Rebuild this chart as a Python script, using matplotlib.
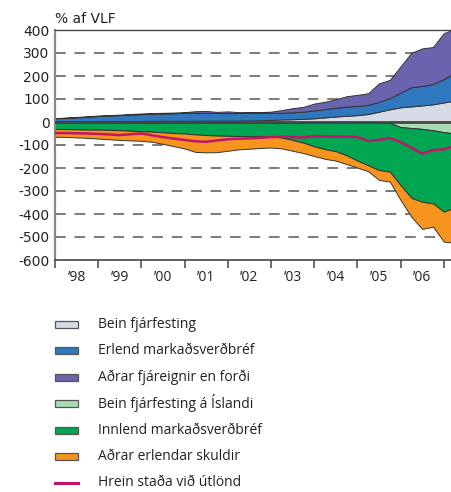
import numpy as np
import matplotlib
matplotlib.use("Agg")
import matplotlib.pyplot as plt
from matplotlib.patches import Rectangle
from matplotlib.lines import Line2D

plt.rcParams['font.family'] = ['Open Sans', 'DejaVu Sans']

# Quarterly observations, 1998 Q1 ... 2007 Q2 (index i -> 1998 + i/4)
t = 1998 + np.arange(38) / 4.0

# Assets (% of GDP)
bein_fjarfesting = [2, 2, 3, 3, 3, 4, 4, 4,
                    5, 5, 5, 5, 5, 5, 6, 6,
                    6, 6, 7, 7, 9, 11, 12, 14,
                    16, 20, 24, 27, 30, 35, 45, 55,
                    64, 68, 72, 77, 85, 93]
erlend_markadsverdbref = [14, 16, 17, 20, 23, 24, 26, 28,
                          29, 31, 32, 33, 35, 35, 34, 33,
                          33, 33, 33, 33, 31, 29, 30, 31,
                          34, 36, 38, 40, 40, 39, 43, 48,
                          64, 83, 85, 88, 101, 122]
adrar_fjareignir = [1, 1, 2, 2, 2, 2, 2, 3,
                    3, 3, 3, 3, 3, 7, 8, 5,
                    7, 4, 3, 3, 5, 12, 18, 21,
                    30, 32, 37, 45, 48, 51, 80, 80,
                    114, 150, 163, 161, 200, 190]

# Liabilities (% of GDP)
bein_fjarfesting_isl = [-2] * 20 + [-3] * 11 + [-4, -22, -26, -30, -36, -44, -50]
innlend_markadsverdbref = [-28, -29, -30, -31, -31, -32, -34, -36,
                           -38, -40, -43, -46, -48, -52, -55, -57,
                           -58, -59, -60, -60, -60, -65, -75, -87,
                           -103, -115, -124, -142, -165, -185, -206, -212,
                           -253, -304, -317, -318, -346, -322]
adrar_erlendar_skuldir = [-34, -34, -35, -36, -39, -41, -42, -42,
                          -42, -44, -50, -57, -65, -76, -75, -72,
                          -65, -58, -54, -51, -48, -47, -47, -45,
                          -42, -42, -41, -38, -30, -26, -43, -43,
                          -64, -82, -118, -101, -130, -153]

# Net international investment position
hrein_stada = [-48, -48, -49, -50, -52, -54, -57, -53,
               -50, -58, -66, -72, -78, -84, -86, -80,
               -75, -73, -71, -69, -66, -64, -66, -67,
               -61, -63, -64, -64, -66, -82, -78, -70,
               -88, -112, -138, -122, -119, -105]

year_labels = ['’98', '’99', '’00', '’01', '’02', '’03', '’04', '’05', '’06']

labels = ['Bein fjárfesting', 'Erlend markaðsverðbréf', 'Aðrar fjáreignir en forði',
          'Bein fjárfesting á Íslandi', 'Innlend markaðsverðbréf', 'Aðrar erlendar skuldir',
          'Hrein staða við útlönd']
colors = ['#d5dce6', '#2f78bd', '#6a63ad', '#a9dbb5', '#00a651', '#f7941d', '#c0166a']

W, H = 451, 492
fig = plt.figure(figsize=(W / 100, H / 100), dpi=100)
x0, x1, y0, y1 = 55, 451, 30, 260
ax = fig.add_axes([x0 / W, 1 - y1 / H, (x1 - x0) / W, (y1 - y0) / H])

edge = '#333333'
ax.stackplot(t, bein_fjarfesting, erlend_markadsverdbref, adrar_fjareignir,
             colors=colors[0:3], edgecolor=edge, linewidth=0.7, zorder=2)
ax.stackplot(t, bein_fjarfesting_isl, innlend_markadsverdbref, adrar_erlendar_skuldir,
             colors=colors[3:6], edgecolor=edge, linewidth=0.7, zorder=2)
ax.axhline(0, color='#444444', lw=2.0, zorder=3)
ax.plot(t, hrein_stada, color=colors[6], lw=1.8, zorder=4)

for v in [300, 200, 100, -100, -200, -300, -400, -500]:
    ax.axhline(v, color='#7a7a7a', lw=1.4, dashes=(5.5, 4.5), zorder=1)

ax.set_ylim(-600, 400)
ax.set_xlim(1998, 1998 + (x1 - x0) / 43.2)
ax.set_yticks(np.arange(-600, 401, 100))
ax.set_yticklabels([str(v) for v in range(-600, 401, 100)], family='DejaVu Sans')
ax.tick_params(axis='y', length=0, pad=4, labelsize=10, colors='#222222')
ax.set_xticks(np.arange(1998, 2008))
ax.set_xticklabels([])
ax.tick_params(axis='x', which='major', direction='out', length=6, width=1.2, color='#555555')
ax.set_xticks(np.arange(1998, 2007) + 0.5, minor=True)
ax.set_xticklabels(year_labels, minor=True)
ax.tick_params(axis='x', which='minor', length=0, pad=7, labelsize=10, colors='#222222')

ax.spines['right'].set_visible(False)
ax.spines['left'].set_color('#888888')
ax.spines['left'].set_linewidth(1.6)
ax.spines['bottom'].set_color('#444444')
ax.spines['bottom'].set_linewidth(1.2)
ax.spines['top'].set_color('#444444')
ax.spines['top'].set_linewidth(1.0)

fig.text(55 / W, 1 - 19 / H, '% af VLF', ha='left', va='center', fontsize=10,
         family='DejaVu Sans', color='#222222')

# Legend
rows = [324, 350.5, 377, 403.5, 430, 456.5, 483]
for k, (lab, col, yc) in enumerate(zip(labels, colors, rows)):
    if k < 6:
        fig.patches.append(Rectangle((55 / W, 1 - (yc + 3.5) / H), 23 / W, 7 / H,
                                     transform=fig.transFigure, facecolor=col,
                                     edgecolor='#555555', lw=0.9))
    else:
        fig.lines.append(Line2D([55 / W, 78 / W], [1 - yc / H, 1 - yc / H],
                                transform=fig.transFigure, color=col, lw=2.2))
    fig.text(98 / W, 1 - yc / H, lab, ha='left', va='center', fontsize=10, color='#222222')

fig.savefig('out.png', dpi=100)
